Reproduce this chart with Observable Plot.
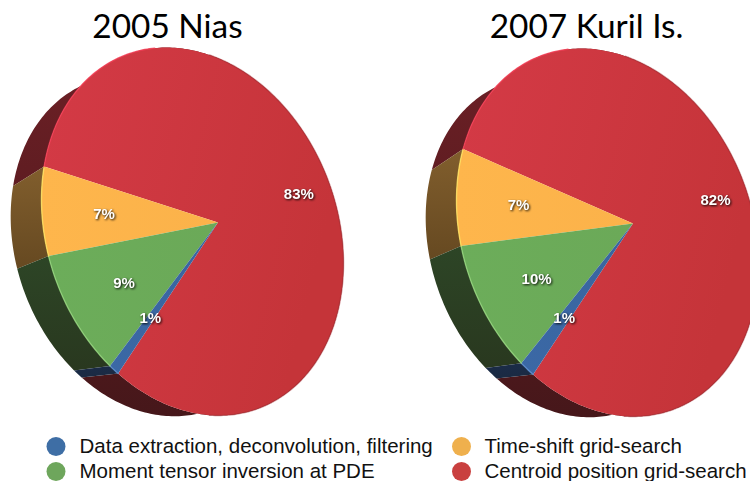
<!DOCTYPE html>
<html>
<head>
<meta charset="utf-8">
<script src="https://cdn.jsdelivr.net/npm/d3@7"></script>
<script src="https://cdn.jsdelivr.net/npm/@observablehq/plot@0.6"></script>
<style>
html,body{margin:0;padding:0;background:#fff;overflow:hidden}
.pct text{filter:drop-shadow(1px 1px 1px rgba(0,0,0,.9))}
</style>
</head>
<body>
<div id="chart"></div>
<script>
const categories = ["Data extraction, deconvolution, filtering","Moment tensor inversion at PDE","Time-shift grid-search","Centroid position grid-search"];
const niasValues  = [0.85, 9.1, 6.6, 83.45];
const kurilValues = [1.25, 9.5, 7.3, 81.95];
const titles = ["2005 Nias","2007 Kuril Is."];
const legendColors = ["#3e6ea5","#6ea65c","#efb04d","#c9403f"];

// view of the tilted disc
const phi0 = 150.3*Math.PI/180, tilt = -25*Math.PI/180, a = 0.186, s = Math.sqrt(1-a*a);
const k = 0.075, vanish = [-370,425], labelR = 0.69;
const pies = [
  {title:titles[0], values:niasValues,  dx:0,   dy:0, titleX:167},
  {title:titles[1], values:kurilValues, dx:415, dy:1, titleX:586}
];
function project(p, r, phi){
  const x=r*Math.cos(phi), y=r*Math.sin(phi), d=1+a*x;
  const X=(x+a)/d, Y=y*s/d;
  const u=X*Math.cos(tilt)-Y*Math.sin(tilt), v=X*Math.sin(tilt)+Y*Math.cos(tilt);
  return {x:192+p.dx+151*u, y:231+p.dy+31.8*u+181.2*v, u, v};
}
function back(p,q){
  return {x:q.x+k*(vanish[0]+p.dx-q.x), y:q.y+k*(vanish[1]+p.dy-q.y)};
}
function arc(p,t0,t1){
  const n=Math.max(2,Math.ceil((t1-t0)/(Math.PI/180)));
  return d3.range(n+1).map(i=>project(p,1,phi0+t0+(t1-t0)*i/n));
}
const front=["url(#fb)","url(#fg)","url(#fo)","url(#fr)"];
const side =["url(#sb)","url(#sg)","url(#so)","url(#sr)"];
const rimLight=["#5c8fd0","#93d47c","#ffe35f","#f53d55"];
const marks=[];
marks.push(()=>{
  const defs=document.createElementNS("http://www.w3.org/2000/svg","defs");
  const g=(id,c0,c1,x2,y2)=>`<linearGradient id="${id}" x1="0" y1="0" x2="${x2}" y2="${y2}"><stop offset="0" stop-color="${c0}"/><stop offset="1" stop-color="${c1}"/></linearGradient>`;
  defs.innerHTML=
    g("fb","#3b68a5","#39659f",1,0)+g("fg","#6cad5a","#6ba958",1,0)+g("fo","#feb64c","#fbb24a",1,0)+g("fr","#d43a46","#c53439",1,.3)+
    g("sb","#1b2c48","#1a2a42",0,1)+g("sg","#2d4526","#29381f",0,1)+g("so","#815e2d","#664921",0,1)+g("sr","#6e2026","#46171a",0,1);
  return defs;
});
pies.forEach(p=>{
  const arcs=d3.pie().sort(null)(p.values);
  arcs.slice().reverse().forEach(d=>{
    const i=d.index;
    const f=arc(p,d.startAngle,d.endAngle);
    const poly=[...f,...f.slice().reverse().map(q=>back(p,q))];
    marks.push(Plot.line(poly,{x:"x",y:"y",fill:side[i],stroke:"none",clip:true}));
  });
  arcs.slice().reverse().forEach(d=>{
    const i=d.index;
    const f=arc(p,d.startAngle,d.endAngle);
    const poly=[project(p,0,0),...f,project(p,0,0)];
    marks.push(Plot.line(poly,{x:"x",y:"y",fill:front[i],stroke:"none",clip:true}));
  });
  arcs.forEach(d=>{
    const f=arc(p,d.startAngle,d.endAngle);
    const left=f.filter(q=>q.u<-0.25 && (d.index<3 || q.v<0));
    if(left.length>1) marks.push(Plot.line(left,{x:"x",y:"y",stroke:rimLight[d.index],strokeWidth:1.4,strokeOpacity:.8,clip:true}));
  });
  const right=arc(p,arcs[3].startAngle,arcs[3].endAngle).filter(q=>q.u>0.1);
  marks.push(Plot.line(right,{x:"x",y:"y",stroke:"#a82c31",strokeWidth:1.5,strokeOpacity:.5,clip:true}));
  const labels=arcs.map(d=>{
    const q=project(p,labelR,phi0+(d.startAngle+d.endAngle)/2);
    return {x:q.x,y:q.y,label:Math.round(p.values[d.index]+1e-9)+"%"};
  });
  marks.push(Plot.text(labels,{x:"x",y:"y",text:"label",fill:"white",fontSize:15,fontWeight:"bold",fontFamily:"Liberation Sans",className:"pct"}));
});
marks.push(Plot.text(pies,{x:"titleX",y:()=>27,text:"title",fontFamily:"Lato",fontSize:33.4,fill:"#000"}));
const legend=[[55.5,446,0],[55.5,471,1],[461,446,2],[461,471,3]].map(([x,y,i])=>({x,y,name:categories[i],color:legendColors[i]}));
marks.push(Plot.dot(legend,{x:"x",y:"y",r:9.5,fill:"color",stroke:"none"}));
marks.push(Plot.text(legend,{x:d=>d.x+(d.x>400?23:23.5),y:"y",text:"name",textAnchor:"start",fontFamily:"Liberation Sans",fontSize:20.5,fill:"#111"}));
const chart=Plot.plot({width:750,height:481,margin:0,
  x:{domain:[0,750],range:[0,750],axis:null},
  y:{domain:[0,481],range:[0,481],axis:null},
  color:{type:"identity"},
  marks});
document.getElementById("chart").append(chart);
</script>
</body>
</html>
